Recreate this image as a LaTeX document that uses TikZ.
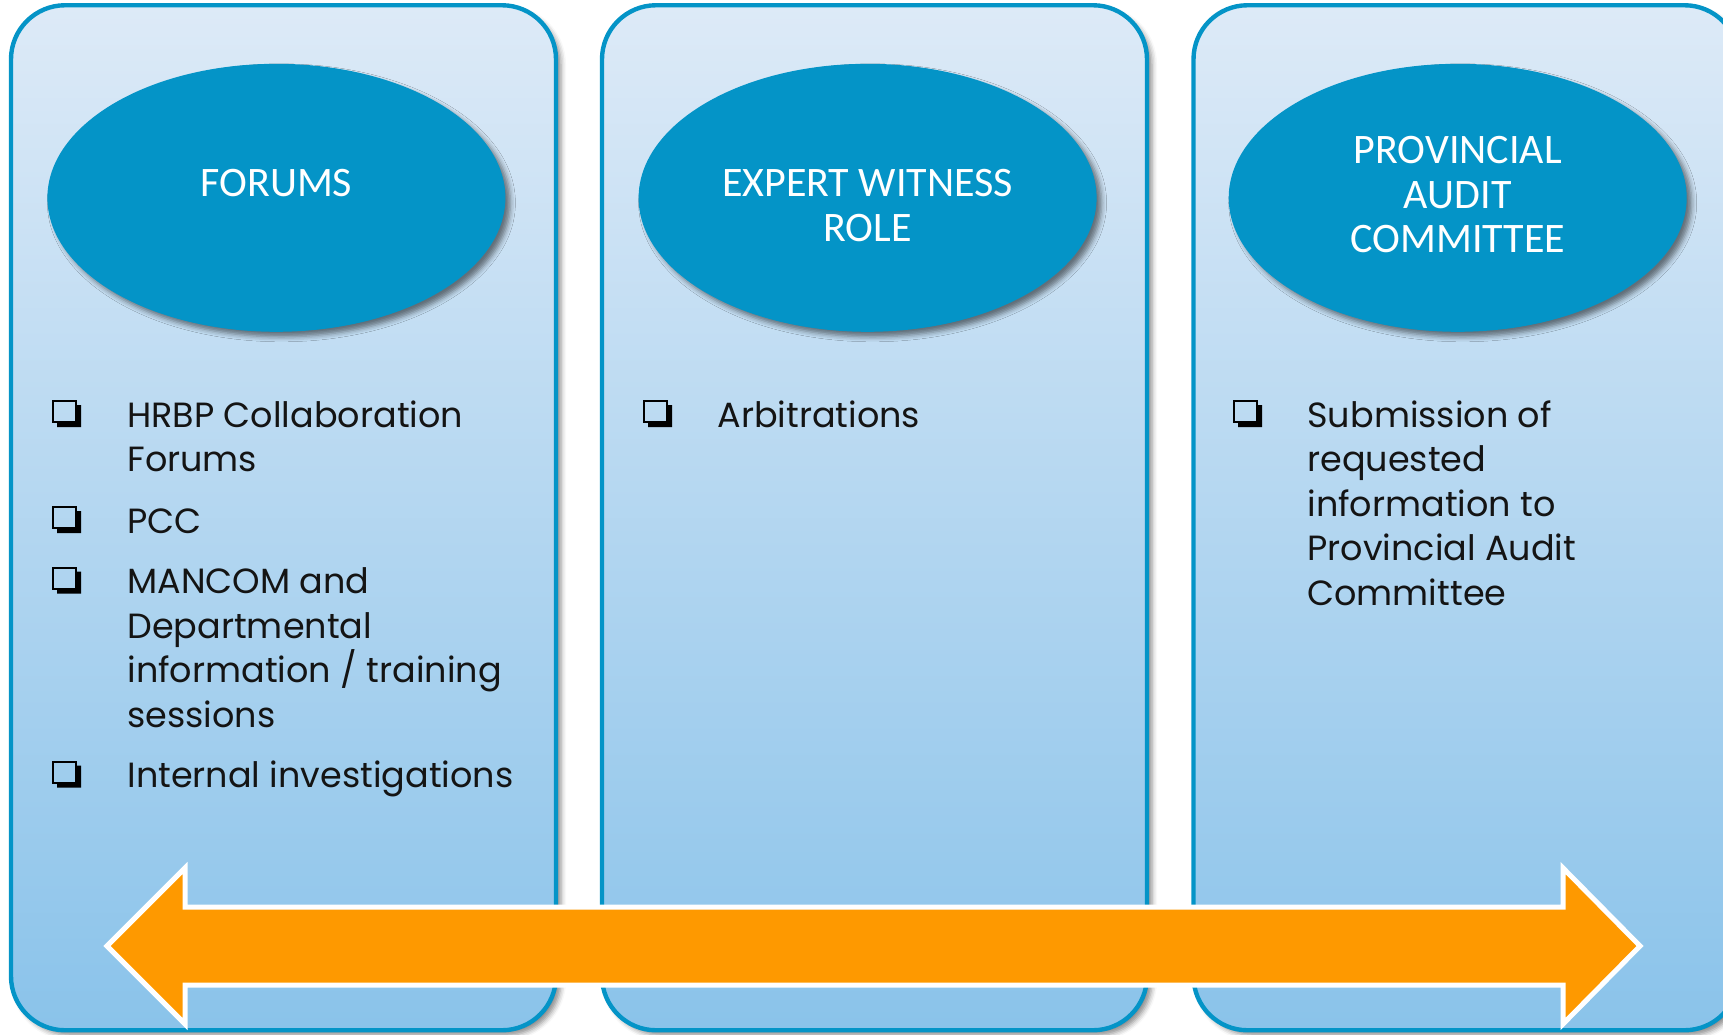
\documentclass[tikz,border=0pt]{standalone}
\usepackage{fontspec}
\setmainfont{Poppins}
\newfontfamily\headfont{Carlito}
\usetikzlibrary{shapes.geometric,shadows,shadows.blur}

\definecolor{rim}{RGB}{4,148,199}
\definecolor{paneltop}{RGB}{221,234,247}
\definecolor{panelbot}{RGB}{138,195,234}
\definecolor{arroworange}{RGB}{254,153,0}
\definecolor{inktext}{RGB}{20,20,20}

% stacked lines whose baseline is the first line
\newcommand\itemlines[1]{\vtop{\hsize=250pt\baselineskip=22.25pt\parindent=0pt\raggedright #1}}

\begin{document}
\begin{tikzpicture}[x=0.5pt,y=-0.5pt,
  panel/.style={rectangle, draw=rim, line width=2.2pt, rounded corners=27pt,
    top color=paneltop, bottom color=panelbot,
    minimum width=272.5pt, minimum height=512.5pt, inner sep=0pt,
    blur shadow={shadow xshift=2.5pt, shadow yshift=-2.5pt, shadow blur radius=2.5pt, shadow opacity=45}},
  bubble/.style={ellipse, fill=rim, minimum width=229pt, minimum height=134pt, inner sep=0pt,
    blur shadow={shadow xshift=2.5pt, shadow yshift=-2.5pt, shadow blur radius=2.5pt, shadow opacity=50}},
  headtext/.style={text=white, font=\headfont\fontsize{21}{22.25}\selectfont, align=center, inner sep=0pt},
  itemtext/.style={text=inktext, font=\fontsize{17.5}{22.25}\selectfont, anchor=base west, inner sep=0pt},
  qbox/.pic={
    \draw[line width=1pt, black] (0,-26) rectangle (23,-5);
    \fill[black] (4,-5) -- (23,-5) -- (23,-22) -- (28,-22) -- (28,0) -- (4,0) -- cycle;
  },
  bigarrow/.style={fill=arroworange, draw=white, line width=2.5pt, line join=miter}
]
\useasboundingbox (0,0) rectangle (1723,1034);
\clip (0,0) rectangle (1723,1034);

% three columns
\node[panel] (colA) at (283.5,517.75) {};
\node[panel] (colB) at (874.5,517.75) {};
\node[panel] (colC) at (1466,517.75) {};

% headings
\node[bubble] (ovA) at (276.4,197.8) {};
\node[bubble] (ovB) at (867.6,197.8) {};
\node[bubble] (ovC) at (1457.7,197.8) {};

\node[headtext] (hA) at (276.4,183.5) {FORUMS};
\node[headtext] (hB) at (867.6,205.5) {EXPERT WITNESS\\ROLE};
\node[headtext] (hC) at (1457.7,195) {PROVINCIAL\\AUDIT\\COMMITTEE};

% first column items
\pic at (53,427) {qbox};
\node[itemtext] (a1) at (127,427) {\itemlines{HRBP Collaboration\\Forums}};
\pic at (53,533) {qbox};
\node[itemtext] (a2) at (127,533) {\itemlines{PCC}};
\pic at (53,593.5) {qbox};
\node[itemtext] (a3) at (127,593.5) {\itemlines{MANCOM and\\Departmental\\information / training\\sessions}};
\pic at (53,787.5) {qbox};
\node[itemtext] (a4) at (127,787.5) {\itemlines{Internal investigations}};

% second column items
\pic at (644,427) {qbox};
\node[itemtext] (b1) at (717,427) {\itemlines{Arbitrations}};

% third column items
\pic at (1234,427) {qbox};
\node[itemtext] (c1) at (1307,427) {\itemlines{Submission of\\requested\\information to\\Provincial Audit\\Committee}};

% two-headed arrow across the columns
\path[bigarrow] (107,946) -- (185,868) -- (185,907) -- (1563,907) -- (1563,868)
  -- (1640,946) -- (1563,1024) -- (1563,985) -- (185,985) -- (185,1024) -- cycle;
\end{tikzpicture}
\end{document}
